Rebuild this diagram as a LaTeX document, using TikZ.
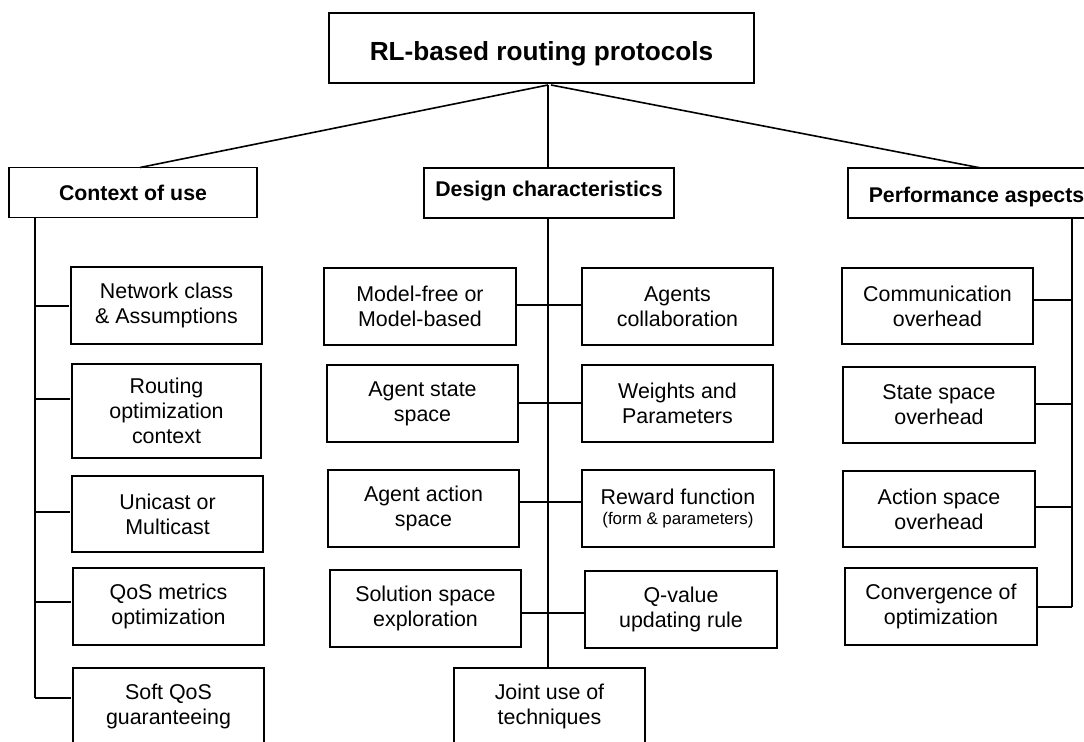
\documentclass[tikz,border=0pt]{standalone}
\usepackage{fontspec}
\setmainfont{Liberation Sans}
\begin{document}
\begin{tikzpicture}[x=0.5pt,y=-0.5pt,
  every node/.style={inner sep=0pt,outer sep=0pt},
  box/.style={draw, line width=0.8pt, align=center, minimum width=95.5pt, minimum height=38.5pt, font=\fontsize{10.7}{12.4}\selectfont},
  head/.style={draw, line width=0.8pt, minimum height=25pt, text depth=0pt, font=\bfseries\fontsize{10.65}{12.4}\selectfont},
  conn/.style={line width=0.8pt}]
\useasboundingbox (0,0) rectangle (1084,742);
\clip (0,0) rectangle (1084,742);

% top level
\node[head, minimum width=212.5pt, minimum height=35pt, text height=13pt, font=\bfseries\fontsize{13.1}{15}\selectfont] (title) at (541.5,48) {RL-based routing protocols};
\node[head, minimum width=124pt, text height=8pt] (ctx) at (133,192.5) {Context of use};
\node[head, minimum width=125pt, text height=4pt] (des) at (549,193) {Design characteristics};
\node[head, minimum width=128.5pt, text height=10pt] (perf) at (976.5,193) {Performance aspects};

% context column
\node[box] (net) at (166.5,305.5) {Network class\\\& Assumptions};
\node[box, minimum width=94.5pt, minimum height=47pt] (rout) at (166.5,411) {Routing\\optimization\\context};
\node[box, minimum height=38pt] (uni) at (167.5,514) {Unicast or\\Multicast};
\node[box] (qos) at (168.5,606.5) {QoS metrics\\optimization};
\node[box] (soft) at (168.5,706.5) {Soft QoS\\guaranteeing};

% design column
\node[box, minimum width=96pt] (mf) at (420,306.5) {Model-free or\\Model-based};
\node[box] (ac) at (677.5,306.5) {Agents\\collaboration};
\node[box] (ass) at (422.5,403.5) {Agent state\\space};
\node[box] (wp) at (677.5,403.5) {Weights and\\Parameters};
\node[box] (aas) at (423.5,508.5) {Agent action\\space};
\node[box, minimum width=96pt] (rf) at (678,508.5) {Reward function\\[-2pt]{\fontsize{8.45}{10}\selectfont (form \& parameters)}};
\node[box] (sse) at (425.5,608.5) {Solution space\\exploration};
\node[box, minimum width=96pt] (qv) at (681,609.5) {Q-value\\updating rule};
\node[box] (joint) at (549.5,706.5) {Joint use of\\techniques};

% performance column
\node[box, minimum height=38pt] (comm) at (937.5,306) {Communication\\overhead};
\node[box, minimum width=96pt, minimum height=38pt] (ssov) at (939,405) {State space\\overhead};
\node[box, minimum width=96pt, minimum height=38pt] (asov) at (939,509) {Action space\\overhead};
\node[box, minimum width=96pt] (conv) at (941,606.5) {Convergence of\\optimization};

% top connectors
\coordinate (hub) at (548,85);
\coordinate (hubr) at (551,85);
\draw[conn] (hub) -- ([xshift=3.5pt]ctx.north);
\draw[conn] (hub) -- (hub |- des.north);
\draw[conn] (hubr) -- ([xshift=2.25pt]perf.north);

% context trunk
\coordinate (c0) at (35,218);
\coordinate (c1) at (35,306);
\coordinate (c2) at (35,399);
\coordinate (c3) at (35,512);
\coordinate (c4) at (35,602);
\coordinate (c5) at (35,698);
\draw[conn] (c0) -- (c5);
\draw[conn, shorten >=1.2pt] (c1) -- (c1 -| net.west);
\draw[conn, shorten >=1.2pt] (c2) -- (c2 -| rout.west);
\draw[conn, shorten >=1.2pt] (c3) -- (c3 -| uni.west);
\draw[conn, shorten >=1.2pt] (c4) -- (c4 -| qos.west);
\draw[conn, shorten >=1.2pt] (c5) -- (c5 -| soft.west);

% design trunk
\coordinate (d0) at (548,218);
\draw[conn] (d0) -- (d0 |- joint.north);
\coordinate (d1) at (548,305);
\coordinate (d2) at (548,403);
\coordinate (d3) at (548,502);
\coordinate (d4) at (548,613);
\draw[conn] (d1 -| mf.east) -- (d1 -| ac.west);
\draw[conn] (d2 -| ass.east) -- (d2 -| wp.west);
\draw[conn] (d3 -| aas.east) -- (d3 -| rf.west);
\draw[conn] (d4 -| sse.east) -- (d4 -| qv.west);

% performance trunk
\coordinate (p0) at (1072,218);
\coordinate (p1) at (1072,300);
\coordinate (p2) at (1072,404);
\coordinate (p3) at (1072,507);
\coordinate (p4) at (1072,607);
\draw[conn] (p0) -- (p4);
\draw[conn] (p1) -- (p1 -| comm.east);
\draw[conn] (p2) -- (p2 -| ssov.east);
\draw[conn] (p3) -- (p3 -| asov.east);
\draw[conn] (p4) -- (p4 -| conv.east);
\end{tikzpicture}
\end{document}
